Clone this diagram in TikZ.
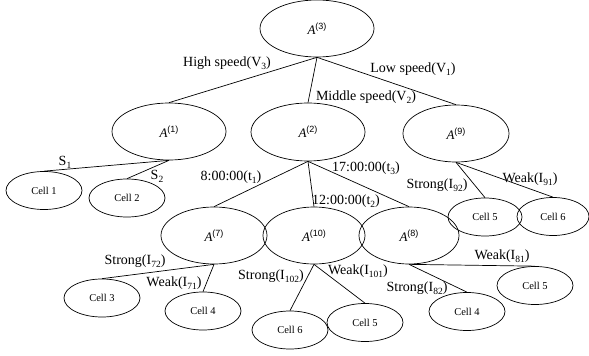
\documentclass[tikz,border=0pt]{standalone}
\usepackage{fontspec}
\setmainfont{Liberation Serif}
\newfontfamily\supfont{Liberation Sans}
\usetikzlibrary{shapes.geometric}
\newcommand\mysb[1]{\raisebox{-0.45ex}{\fontsize{9.5}{10}\selectfont #1}}
\newcommand\mysp[1]{\raisebox{0.85ex}{\supfont\fontsize{9}{10}\selectfont #1}}
\begin{document}
\begin{tikzpicture}[x=1pt,y=-1pt,
  big/.style={ellipse,draw,line width=0.7pt,inner sep=0pt,minimum width=106pt,minimum height=57pt,font=\fontsize{13}{15}\selectfont},
  cell/.style={ellipse,draw,line width=0.7pt,inner sep=0pt,minimum width=76pt,minimum height=38pt,font=\fontsize{10.5}{12}\selectfont},
  lbl/.style={inner sep=0pt,font=\fontsize{14}{16}\selectfont},
  edge/.style={line width=0.7pt}]
\useasboundingbox (0,0) rectangle (589,356);
% big nodes
\node[big,minimum width=114pt] (a3) at (317,28.5) {\textit{A}\mysp{(3)}};
\node[big,minimum width=114pt] (a1) at (169,131.5) {\textit{A}\mysp{(1)}};
\node[big,minimum width=114pt,minimum height=58pt] (a2) at (308,132) {\textit{A}\mysp{(2)}};
\node[big] (a9) at (456,133.5) {\textit{A}\mysp{(9)}};
\node[big] (a7) at (214,235.5) {\textit{A}\mysp{(7)}};
\node[big,minimum width=102pt] (a10) at (314,235.5) {\textit{A}\mysp{(10)}};
\node[big,minimum width=100pt] (a8) at (409,235.5) {\textit{A}\mysp{(8)}};
% cells
\node[cell] (c1) at (44,190.5) {Cell 1};
\node[cell] (c2) at (127,198) {Cell 2};
\node[cell,minimum width=74pt] (c5a) at (485,217) {Cell 5};
\node[cell,minimum width=72pt] (c6a) at (553,216.5) {Cell 6};
\node[cell] (c3) at (102,298) {Cell 3};
\node[cell] (c4a) at (203,311) {Cell 4};
\node[cell] (c6b) at (290,330) {Cell 6};
\node[cell] (c5b) at (365,322.5) {Cell 5};
\node[cell] (c4b) at (467,311.5) {Cell 4};
\node[cell] (c5c) at (535,285.5) {Cell 5};
% edges
\draw[edge] (a3.south) -- (a1.north);
\draw[edge] (a3.south) -- (a2.north);
\draw[edge] (a3.south) -- (a9.north);
\draw[edge] (a1.south) -- (c1.north);
\draw[edge] (a1.south) -- (c2.north);
\draw[edge] (a2.south) -- (a7.north);
\draw[edge] (a2.south) -- (a10.north);
\draw[edge] (a2.south) -- (a8.north);
\draw[edge] (a9.south) -- (c5a.north);
\draw[edge] (a9.south) -- (c6a.north);
\draw[edge] (a7.south) -- (c3.north);
\draw[edge] (a7.south) -- (c4a.north);
\draw[edge] (a10.south) -- (c6b.north);
\draw[edge] (a10.south) -- (c5b.north);
\draw[edge] (a8.south) -- (c4b.north);
\draw[edge] (a8.south) -- (c5c.north);
% labels
\node[lbl] (l1) at (227,63) {High speed(V\mysb{3})};
\node[lbl] (l2) at (366,97) {Middle speed(V\mysb{2})};
\node[lbl] (l3) at (413,69) {Low speed(V\mysb{1})};
\node[lbl] (l4) at (65,162) {S\mysb{1}};
\node[lbl] (l5) at (157,176) {S\mysb{2}};
\node[lbl] (l6) at (231,177) {8:00:00(t\mysb{1})};
\node[lbl] (l7) at (366,168) {17:00:00(t\mysb{3})};
\node[lbl] (l8) at (346,201) {12:00:00(t\mysb{2})};
\node[lbl] (l9) at (437,185) {Strong(I\mysb{92})};
\node[lbl] (l10) at (530,179) {Weak(I\mysb{91})};
\node[lbl] (l11) at (135,261) {Strong(I\mysb{72})};
\node[lbl] (l12) at (174,283) {Weak(I\mysb{71})};
\node[lbl] (l13) at (271,276) {Strong(I\mysb{102})};
\node[lbl] (l14) at (358,271) {Weak(I\mysb{101})};
\node[lbl] (l15) at (502,256) {Weak(I\mysb{81})};
\node[lbl] (l16) at (417,288) {Strong(I\mysb{82})};
\end{tikzpicture}
\end{document}
